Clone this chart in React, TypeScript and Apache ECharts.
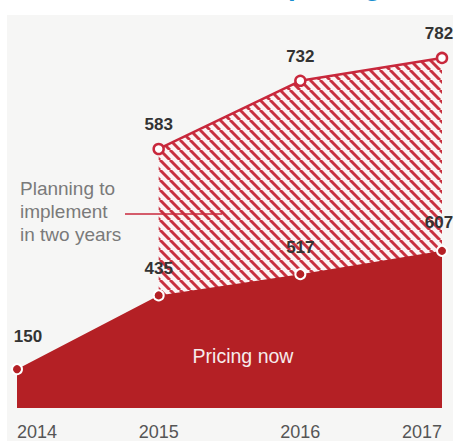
import React, { useEffect, useRef } from "react";
import * as echarts from "echarts";

const years = ["2014", "2015", "2016", "2017"];
const pricingNow = [150, 435, 517, 607];
const planningTwoYears: (number | null)[] = [null, 583, 732, 782];

const RED = "#b42025";
const LINE_RED = "#c8283c";
const FONT = "'Liberation Sans', Arial, sans-serif";

function makeHatch(): HTMLCanvasElement {
  const c = document.createElement("canvas");
  const s = 10;
  c.width = s;
  c.height = s;
  const ctx = c.getContext("2d")!;
  ctx.fillStyle = "#fbf4f4";
  ctx.fillRect(0, 0, s, s);
  ctx.strokeStyle = "#c8303f";
  ctx.lineWidth = 3;
  for (let k = -1; k <= 1; k++) {
    ctx.beginPath();
    ctx.moveTo(k * s, 0);
    ctx.lineTo(k * s + s, s);
    ctx.stroke();
  }
  return c;
}

export default function App() {
  const ref = useRef<HTMLDivElement>(null);
  useEffect(() => {
    document.body.style.margin = "0";
    const chart = echarts.init(ref.current!, undefined, { renderer: "svg" });
    const hatch = makeHatch();
    const last = years.length - 1;
    const labelStyle = {
      show: true,
      position: "top",
      color: "#333",
      fontFamily: FONT,
      fontSize: 17,
      fontWeight: "bold",
    };
    const option: any = {
      animation: false,
      backgroundColor: "#ffffff",
      grid: { left: 17, right: 14, top: 30, bottom: 31 },
      xAxis: {
        type: "category",
        data: years,
        boundaryGap: false,
        axisLine: { show: false },
        axisTick: { show: false },
        splitLine: { show: false },
        axisLabel: {
          color: "#555",
          fontFamily: FONT,
          fontSize: 18,
          margin: 15,
          alignMinLabel: "left",
          alignMaxLabel: "right",
        },
      },
      yAxis: [
        { type: "value", min: 0, max: 1460, show: false, splitLine: { show: false } },
        { type: "value", min: 17, max: 843, show: false, splitLine: { show: false } },
      ],
      graphic: [
        {
          type: "rect",
          z: -10,
          shape: { x: 7, y: 15, width: 446, height: 430 },
          style: { fill: "#f6f6f5" },
        },
        {
          type: "text",
          x: 288,
          y: -15,
          style: {
            text: "pricing",
            fontSize: 28,
            fontWeight: "bold",
            fontFamily: FONT,
            fill: "#1a8fd0",
            verticalAlign: "middle",
          },
        },
        {
          type: "text",
          x: 20,
          y: 177,
          z: 10,
          style: {
            text: "Planning to\nimplement\nin two years",
            fontSize: 19,
            lineHeight: 23,
            fontFamily: FONT,
            fill: "#7a7a7a",
          },
        },
        {
          type: "line",
          z: 10,
          shape: { x1: 125, y1: 214, x2: 222, y2: 214 },
          style: { stroke: LINE_RED, lineWidth: 1.5 },
        },
        {
          type: "text",
          x: 243,
          y: 356,
          z: 10,
          style: {
            text: "Pricing now",
            fontSize: 19.5,
            fontFamily: FONT,
            fill: "#f6ecec",
            align: "center",
            verticalAlign: "middle",
          },
        },
      ],
      series: [
        {
          type: "line",
          yAxisIndex: 1,
          data: planningTwoYears.map((v, i) =>
            i === last ? { value: v, label: { offset: [-3, 0] } } : v
          ),
          z: 2,
          symbol: "circle",
          symbolSize: 10,
          lineStyle: { color: LINE_RED, width: 2.5 },
          itemStyle: { color: "#ffffff", borderColor: LINE_RED, borderWidth: 2.5 },
          areaStyle: { color: { image: hatch, repeat: "repeat" }, opacity: 1 },
          label: { ...labelStyle, distance: 10 },
        },
        {
          type: "line",
          yAxisIndex: 0,
          z: 3,
          data: pricingNow.map((v, i) =>
            i === 0
              ? { value: v, label: { offset: [11, -6] } }
              : i === last
              ? { value: v, label: { offset: [-3, -2] } }
              : { value: v }
          ),
          symbol: "circle",
          symbolSize: 10,
          lineStyle: { width: 0, color: RED },
          itemStyle: { color: RED, borderColor: "#ffffff", borderWidth: 2 },
          areaStyle: { color: RED, opacity: 1 },
          label: { ...labelStyle, distance: 12 },
        },
      ],
    };
    chart.setOption(option);
    return () => chart.dispose();
  }, []);
  return <div ref={ref} style={{ width: 456, height: 441 }} />;
}
